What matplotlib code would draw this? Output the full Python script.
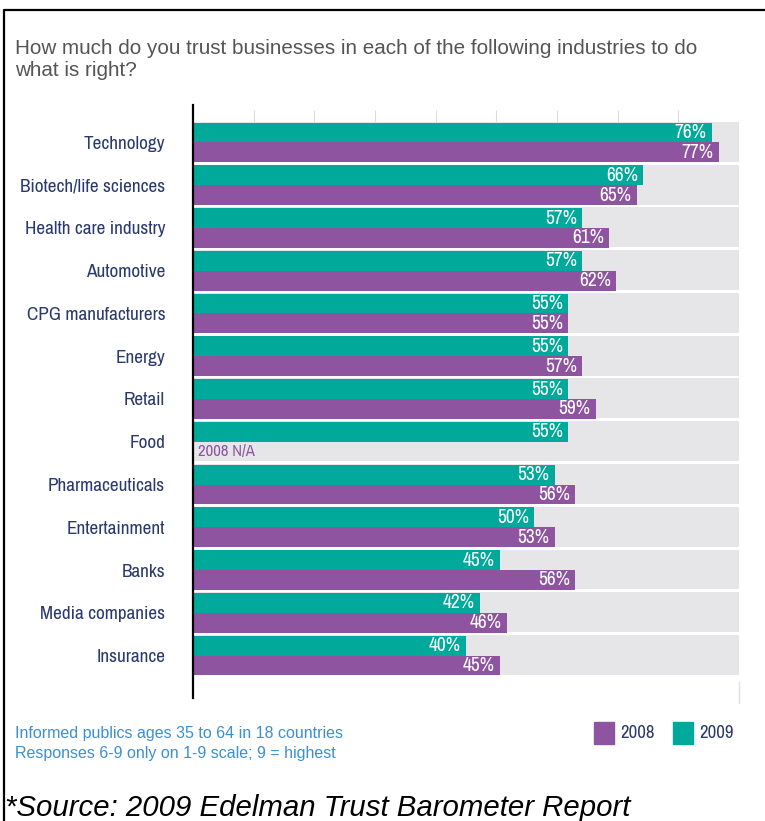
import matplotlib
matplotlib.use("Agg")
import matplotlib.pyplot as plt
import numpy as np

industries = ["Technology", "Biotech/life sciences", "Health care industry", "Automotive",
              "CPG manufacturers", "Energy", "Retail", "Food", "Pharmaceuticals",
              "Entertainment", "Banks", "Media companies", "Insurance"]
trust_2009 = [76, 66, 57, 57, 55, 55, 55, 55, 53, 50, 45, 42, 40]
trust_2008 = [77, 65, 61, 62, 55, 57, 59, None, 56, 53, 56, 46, 45]

TEAL = "#00a99a"
PURPLE = "#8e54a0"
BAND = "#e6e6e8"
NAVY = "#2b3a6e"
BLUE = "#3b8fd4"
NARROW = ["Archivo Narrow", "DejaVu Sans"]

fig = plt.figure(figsize=(7.65, 8.21), dpi=100)
ax = fig.add_axes([193 / 765, 1 - 698 / 821, 546 / 765, 593 / 821])

y = np.arange(len(industries))
xmax = 80
bar_h = 0.465

# fond gris de chaque groupe
ax.barh(y - 0.012, xmax, height=0.935, color=BAND, zorder=0)
ax.barh(y - bar_h / 2, trust_2009, height=bar_h, color=TEAL, zorder=2)
v08 = [v if v is not None else 0 for v in trust_2008]
ax.barh(y + bar_h / 2, v08, height=bar_h, color=PURPLE, zorder=2)

for i, (a, b) in enumerate(zip(trust_2009, trust_2008)):
    ax.text(a - 0.75, i - bar_h / 2, f"{a}%", ha="right", va="center", color="white",
            fontsize=14, family=NARROW, zorder=3)
    if b is None:
        ax.text(0.7, i + bar_h / 2, "2008 N/A", ha="left", va="center", color=PURPLE,
                fontsize=12, family=NARROW, zorder=3)
    else:
        ax.text(b - 0.75, i + bar_h / 2, f"{b}%", ha="right", va="center", color="white",
                fontsize=14, family=NARROW, zorder=3)

# petits traits de grille en haut
ax.vlines(np.arange(1, 9) * xmax / 9, -0.76, -0.49, color="#dcdcdc", lw=0.8, zorder=1)

ax.set_xlim(0, xmax)
ax.set_ylim(12.994, -0.877)
ax.set_xticks([])
ax.set_yticks(y)
ax.set_yticklabels(industries, family=NARROW, fontsize=13.8, color=NAVY)
ax.tick_params(axis="y", length=0, pad=20)
for s in ("top", "right", "bottom"):
    ax.spines[s].set_visible(False)
ax.spines["left"].set_linewidth(1.6)
ax.spines["left"].set_color("black")

fig.text(15 / 765, 1 - 59.5 / 821,
         "How much do you trust businesses in each of the following industries to do\nwhat is right?",
         ha="left", va="center", fontsize=14.85, color="#555555", linespacing=1.2,
         family="Liberation Sans")

fig.text(15 / 765, 1 - 733 / 821, "Informed publics ages 35 to 64 in 18 countries",
         ha="left", va="center", fontsize=11.5, color=BLUE, family="Liberation Sans")
fig.text(15 / 765, 1 - 753 / 821, "Responses 6-9 only on 1-9 scale; 9 = highest",
         ha="left", va="center", fontsize=11.5, color=BLUE, family="Liberation Sans")

# legende
for x0, col, lab in [(594, PURPLE, "2008"), (673, TEAL, "2009")]:
    fig.patches.append(plt.Rectangle((x0 / 765, 1 - 744 / 821), 20 / 765, 22 / 821,
                                     transform=fig.transFigure, color=col))
    fig.text((x0 + 26) / 765, 1 - 733 / 821, lab, ha="left", va="center",
             fontsize=13.5, color=NAVY, family=NARROW)

fig.add_artist(plt.Line2D([739 / 765, 739 / 765], [1 - 682 / 821, 1 - 703 / 821],
                          color="#e0e0e0", lw=1, transform=fig.transFigure))

# cadre
fig.add_artist(plt.Line2D([4 / 765, 4 / 765, 1], [0, 1 - 10 / 821, 1 - 10 / 821],
                          color="black", lw=1.6, transform=fig.transFigure))

fig.text(5 / 765, 1 - 808 / 821, "*Source: 2009 Edelman Trust Barometer Report",
         ha="left", va="center", fontsize=21.2, style="italic", color="black",
         family="Liberation Sans")

fig.savefig("out.png", dpi=100)
